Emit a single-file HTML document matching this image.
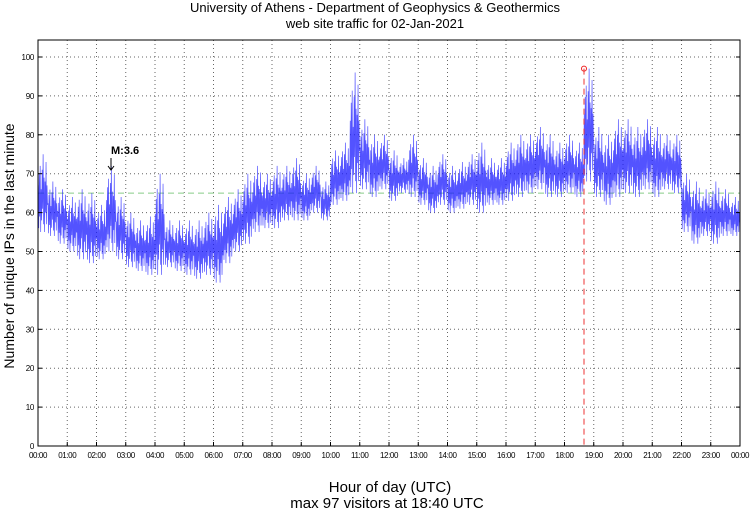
<!DOCTYPE html>
<html><head><meta charset="utf-8"><style>
body{margin:0;background:#fff;font-family:"Liberation Sans",sans-serif}
svg text{font-family:"Liberation Sans",sans-serif}
</style></head><body>
<svg id="c" width="750" height="511" xmlns="http://www.w3.org/2000/svg">
<text x="375" y="12" text-anchor="middle" font-size="13">University of Athens - Department of Geophysics &amp; Geothermics</text>
<text x="375" y="28" text-anchor="middle" font-size="13">web site traffic for 02-Jan-2021</text>
<text transform="translate(14,246) rotate(-90)" text-anchor="middle" font-size="14">Number of unique IPs in the last minute</text>
<text x="390" y="492" text-anchor="middle" font-size="15">Hour of day (UTC)</text>
<text x="387" y="508" text-anchor="middle" font-size="15">max 97 visitors at 18:40 UTC</text>
<g id="grid"></g><g id="series"></g><g id="axes"></g>
</svg>
<script>
const yTicks=[0,10,20,30,40,50,60,70,80,90,100];
const xTickLabels=["00:00","01:00","02:00","03:00","04:00","05:00","06:00","07:00","08:00","09:00","10:00","11:00","12:00","13:00","14:00","15:00","16:00","17:00","18:00","19:00","20:00","21:00","22:00","23:00","00:00"];
const lowValues=[55,54,52,50,48,47,48,50,48,46,45,44,44,46,45,44,43,44,42,47,50,52,55,56,56,58,58,58,60,58,62,63,65,66,64,66,63,65,64,62,60,62,60,61,62,60,62,62,63,64,65,66,64,64,65,64,68,64,62,64,65,64,66,64,66,65,55,52,54,52,54,54];
const highValues=[75,68,66,64,66,65,62,72,64,60,58,59,70,58,58,58,58,60,62,64,66,70,72,70,72,72,74,70,72,68,76,78,96,84,80,80,76,74,80,74,72,75,72,73,75,78,74,74,78,80,80,82,80,78,80,78,97,82,80,84,84,82,84,82,80,80,70,68,66,68,66,64];
const meanLine=65, maxValue=97, maxMinute=18*60+40;
const L=38,R=740,T=40,B=446,Y0=446,Y100=57;
const sx=m=>L+(R-L)*m/1440, sy=v=>Y0-(Y0-Y100)*v/100;
const ns="http://www.w3.org/2000/svg";
function el(t,a,p){const e=document.createElementNS(ns,t);for(const k in a)e.setAttribute(k,a[k]);document.getElementById(p).appendChild(e);return e;}
const fr=el('rect',{x:L,y:T,width:R-L,height:B-T,fill:'none',stroke:'#000','stroke-width':1},'axes');


yTicks.forEach(v=>{
  if(v>0){const g=el('line',{x1:L,x2:R,y1:sy(v),y2:sy(v),stroke:'#666','stroke-dasharray':'1,3'},'grid');
  
  }
  const t=el('text',{x:L-4,y:sy(v)+3,'text-anchor':'end','font-size':8,'letter-spacing':'-0.3'},'axes');t.textContent=v;
  
  
  el('line',{x1:L,x2:L+4,y1:sy(v),y2:sy(v),stroke:'#000'},'axes');
  el('line',{x1:R-4,x2:R,y1:sy(v),y2:sy(v),stroke:'#000'},'axes');
});
xTickLabels.forEach((s,i)=>{
  const x=sx(i*60);
  if(i>0&&i<24){const g=el('line',{x1:x,x2:x,y1:T,y2:B,stroke:'#666','stroke-dasharray':'1,3'},'grid');
  
  }
  el('line',{x1:x,x2:x,y1:B-4,y2:B,stroke:'#000'},'axes');
  const t=el('text',{x:x,y:B+12,'text-anchor':'middle','font-size':8,'letter-spacing':'-0.4'},'axes');t.textContent=s;
  
  
});
const ml=el('line',{x1:L,x2:R,y1:sy(meanLine),y2:sy(meanLine),stroke:'#8c8','stroke-dasharray':'6,4'},'series');


const shape=[0.6,0.05,0.75,0.2,0.85,0.0,0.55,0.15,0.8,0.3,1.0,0.1,0.7,0.0,0.65,0.25,0.9,0.1,0.6,0.35];
let pts=[];const step=1440/lowValues.length;
lowValues.forEach((lo,i)=>{const hi=highValues[i];const m0=i*step;
  shape.forEach((f,k)=>{pts.push([sx(m0+step*(k+0.5)/shape.length),sy(lo+(hi-lo)*f)]);});});
const pl=el('polyline',{points:pts.map(p=>p.join(',')).join(' '),fill:'none',stroke:'#1a1aff','stroke-width':0.7,'stroke-opacity':0.75},'series');


const mx=el('line',{x1:sx(maxMinute),x2:sx(maxMinute),y1:sy(maxValue),y2:B,stroke:'#e33','stroke-dasharray':'6,4'},'series');


const mc=el('circle',{cx:sx(maxMinute),cy:sy(maxValue),r:2.5,fill:'none',stroke:'#e22'},'series');


const at=el('text',{x:111,y:154,'font-size':11,'font-weight':'bold'},'axes');at.textContent='M:3.6';


const ar=el('path',{d:'M111,158 L111,170 M108,166 L111,170 L114,166',stroke:'#000',fill:'none'},'axes');


</script>
</body></html>
